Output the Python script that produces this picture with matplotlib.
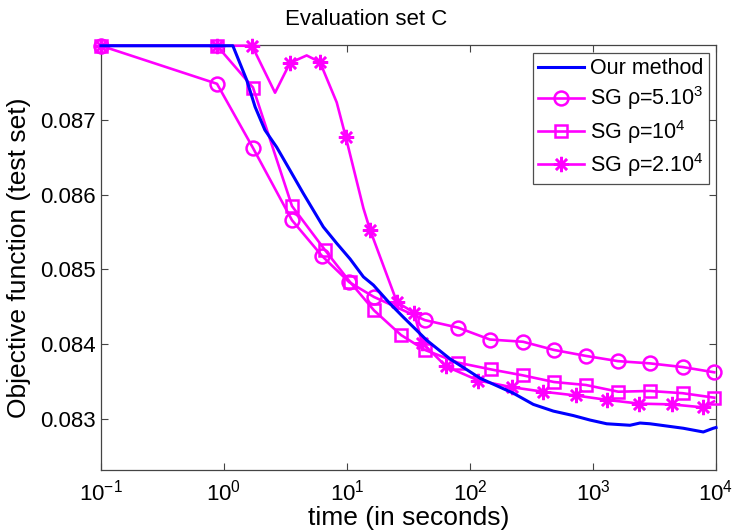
import matplotlib
matplotlib.use("Agg")
import matplotlib.pyplot as plt
from matplotlib.ticker import FixedLocator, FormatStrFormatter, NullLocator, LogLocator

plt.rcParams['font.family'] = ['Liberation Sans', 'DejaVu Sans']
plt.rcParams['mathtext.default'] = 'regular'

# ---- data ----
ours_t = [0.1, 1.18, 1.53, 1.79, 2.15, 2.68, 3.44, 4.41, 6.42, 8.25, 10.6, 13.6, 16.4,
          22.4, 28.7, 44.5, 68.8, 121, 225, 327, 476, 692, 945, 1292, 2000, 2411,
          2907, 3972, 5420, 7884, 9506, 10000]
ours_v = [0.0880, 0.0880, 0.08754, 0.08718, 0.08687, 0.08664, 0.08633, 0.08602, 0.08557,
          0.08535, 0.08514, 0.08490, 0.08479, 0.08454, 0.08436, 0.08405, 0.08380, 0.08354,
          0.08334, 0.08319, 0.08310, 0.08304, 0.08298, 0.08293, 0.08291, 0.08294, 0.08293,
          0.08290, 0.08287, 0.08282, 0.08287, 0.08288]

sg5k_t = [0.1, 0.877, 1.72, 3.57, 6.27, 10.4, 16.6, 43.0, 79.8, 145, 270, 482, 877,
          1596, 2904, 5395, 9690]
sg5k_v = [0.0880, 0.08749, 0.08663, 0.08566, 0.08518, 0.08483, 0.08463, 0.08432, 0.08422,
          0.08406, 0.08403, 0.08392, 0.08384, 0.08377, 0.08374, 0.08369, 0.08362]

sg10k_t = [0.1, 0.877, 1.72, 3.57, 6.62, 10.6, 16.6, 27.5, 43.0, 79.8, 147, 268, 482,
           877, 1606, 2904, 5358, 9690]
sg10k_v = [0.0880, 0.0880, 0.08744, 0.08585, 0.08526, 0.08483, 0.08445, 0.08412, 0.08392,
           0.08375, 0.08366, 0.08358, 0.08349, 0.08345, 0.08336, 0.08337, 0.08334, 0.08328]

sg20k_t = [0.1, 0.877, 1.69, 2.60, 3.44, 4.70, 6.03, 8.25, 9.76, 13.6, 15.4, 25.5, 35.1,
           40.7, 63.8, 117, 220, 394, 721, 1307, 2379, 4364, 7841, 9632]
sg20k_v = [0.0880, 0.0880, 0.0880, 0.08737, 0.08777, 0.08787, 0.08778, 0.08724, 0.08678,
           0.08582, 0.08553, 0.08456, 0.08442, 0.08402, 0.08370, 0.08351, 0.08342, 0.08336,
           0.08331, 0.08325, 0.08320, 0.08319, 0.08315, 0.08323]

labels = ['Our method', r'SG ρ=5.10$^{3}$', r'SG ρ=10$^{4}$', r'SG ρ=2.10$^{4}$']
y_ticks = [0.083, 0.084, 0.085, 0.086, 0.087]

# ---- figure ----
fig = plt.figure(figsize=(7.32, 5.30), dpi=100)
ax = fig.add_axes([101/732, 1-470/530, 615/732, 425/530])

mag = '#ff00ff'
blue = '#0000ff'
lw = 1.9

h2, = ax.plot(sg5k_t, sg5k_v, color=mag, lw=lw, marker='o', ms=10, mfc='none',
              mew=1.8, clip_on=False, zorder=3)
h3, = ax.plot(sg10k_t, sg10k_v, color=mag, lw=lw, marker='s', ms=9, mfc='none',
              mew=1.8, clip_on=False, zorder=3)
star_marks = [0, 1, 2, 4, 6, 8, 10, 11, 12, 13, 14, 15, 16, 17, 18, 19, 20, 21, 22]
h4, = ax.plot(sg20k_t, sg20k_v, color=mag, lw=lw, marker=(8, 2, 0), ms=11, mew=1.8,
              markevery=star_marks, clip_on=False, zorder=3)
h1, = ax.plot(ours_t, ours_v, color=blue, lw=2.2, clip_on=False, zorder=4)

ax.set_xscale('log')
ax.set_xlim(0.1, 1e4)
ax.set_ylim(0.08231, 0.08801)
ax.xaxis.set_major_locator(LogLocator(base=10, numticks=10))
ax.xaxis.set_minor_locator(NullLocator())
ax.yaxis.set_major_locator(FixedLocator(y_ticks))
ax.yaxis.set_major_formatter(FormatStrFormatter('%.3f'))

ax.tick_params(which='both', direction='in', top=True, right=True, length=5,
               width=0.8, color='#444444', labelsize=16)
ax.tick_params(axis='x', pad=7)
ax.tick_params(axis='y', pad=4)
for s in ax.spines.values():
    s.set_color('#444444')
    s.set_linewidth(0.9)

ax.set_xlabel('time (in seconds)', fontsize=19, labelpad=0)
ax.set_ylabel('Objective function (test set)', fontsize=19, labelpad=6)
ax.text(0.431, 1.0 + 15/425, 'Evaluation set C', transform=ax.transAxes,
        ha='center', va='bottom', fontsize=16)

leg = ax.legend([h1, h2, h3, h4], labels, loc='upper right',
                bbox_to_anchor=((709.3-101)/615, (470-52.7)/425), borderaxespad=0,
                fontsize=15.5, frameon=True, fancybox=False, handlelength=2.1,
                handletextpad=0.3, labelspacing=0.25, borderpad=0.25)
leg.get_frame().set_edgecolor('#222222')
leg.get_frame().set_linewidth(0.9)

fig.savefig('out.png', dpi=100)
